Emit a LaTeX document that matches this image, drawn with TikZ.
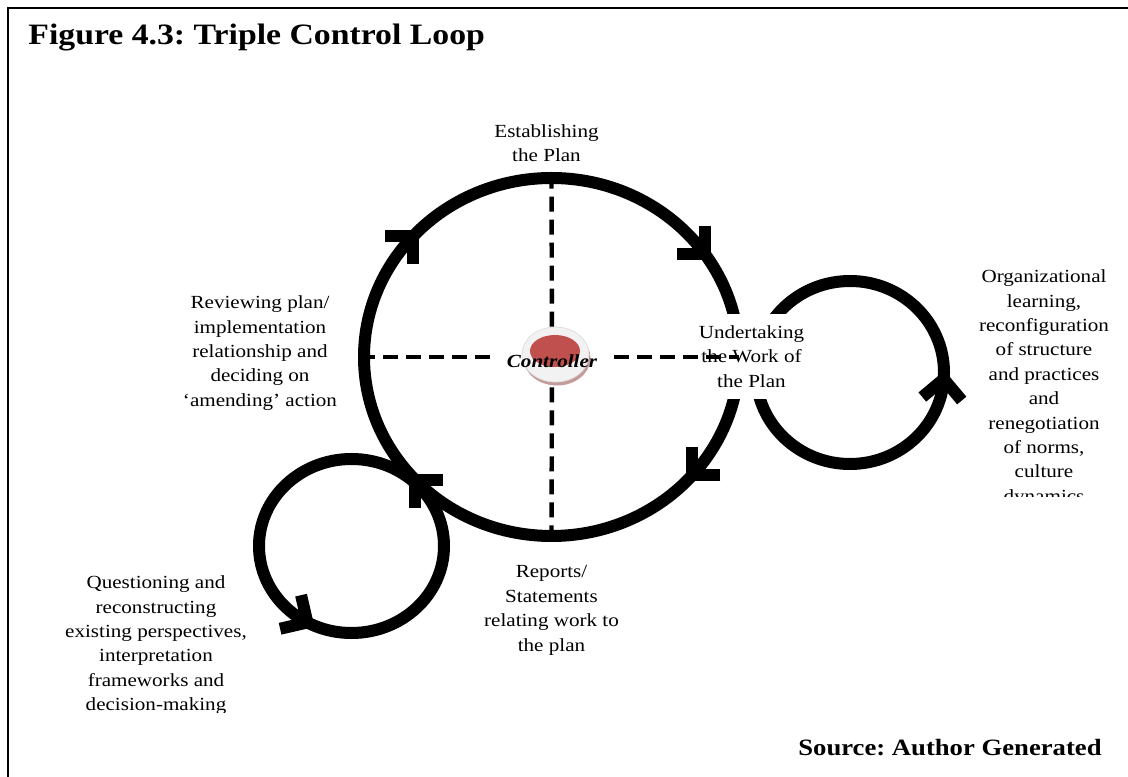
\documentclass[tikz,border=0pt]{standalone}
\usepackage{fontspec}
\setmainfont{Liberation Serif}[FakeStretch=1.14]
\usepackage{tikz}
\usetikzlibrary{positioning, shapes}

\definecolor{knobred}{HTML}{C0504D}
\definecolor{knobrim}{HTML}{F2F2F2}
\definecolor{knobshade}{HTML}{C49A9A}

\newcommand{\lblfont}{\fontsize{9.25}{12.2}\selectfont}

\tikzset{
  loopline/.style = {draw, ellipse, line width=6pt, inner sep=0pt, outer sep=0pt},
  lbl/.style      = {align=center, inner sep=0pt, font=\lblfont},
  divider/.style  = {line width=2.2pt, dash pattern=on 7.5pt off 4pt},
  barb/.pic       = {\draw [line width=6pt, line join=miter] (-28,0) -- (0,0) -- (0,-28);}
}

\frenchspacing

\begin{document}
\begin{tikzpicture}[x=0.5pt, y=0.5pt]

\useasboundingbox (0,0) rectangle (1128,776);
\draw [line width=1pt] (8,768) rectangle (1140,-20);

% the three loops
\node [loopline, minimum width=187.5pt, minimum height=179pt ] (plan)  at (551.5,419)  {};
\node [loopline, minimum width=94pt   , minimum height=91.5pt] (learn) at (850,403.5)  {};
\node [loopline, minimum width=92.5pt , minimum height=87pt  ] (quest) at (351.5,230)  {};

\pic [rotate=0  ] at (plan.139)   {barb};
\pic [rotate=-90] at (plan.34)    {barb};
\pic [rotate=180] at (plan.-40)   {barb};
\pic [rotate=90 ] at (plan.-138)  {barb};
\pic [rotate=-77] at (quest.-120) {barb};
\pic [rotate=40 ] at (learn.-4)   {barb};

\node [lbl, fill=white, inner xsep=2pt, inner ysep=5.85pt] (work) at (751.5,419.5) {Undertaking\\the Work of\\the Plan};

% controller
\node [ellipse, fill=knobshade, inner sep=0pt, minimum width=33.5pt, minimum height=27.5pt] (shade) at (557,418)     {};
\node [ellipse, fill=knobrim, draw=gray!25, line width=0.4pt, inner sep=0pt, minimum width=33.5pt, minimum height=27.5pt] (rim) at (555.5,421.5) {};
\node [ellipse, fill=knobred, inner sep=0pt, minimum width=25pt, minimum height=16pt] (knob) at (555,425) {};
\node [font=\lblfont\bfseries\itshape, inner sep=0pt, text height=20.5pt, text depth=9.5pt, minimum width=62pt, anchor=base] (ctrl) at (552,408) {Controller};

\path [draw, divider] (ctrl) edge (plan.north)
                             edge (plan.south)
                             edge (plan.west)
                             edge (plan.east);

% labels
\node [lbl, above=8pt of plan, xshift=-2.5pt] (est) {Establishing\\the Plan};
\node [lbl, below=14.7pt of plan            ] (rep) {Reports/\\Statements\\relating work to\\the plan};
\node [lbl, anchor=north] (rev) at (260,480.6) {Reviewing plan/\\implementation\\relationship and\\deciding on\\`amending' action};

\begin{scope}
\clip (950,279) rectangle (1128,560);
\node [lbl, anchor=north] (org) at (1044,506.6) {Organizational\\learning,\\reconfiguration\\of structure\\and practices\\and\\renegotiation\\of norms,\\culture\\dynamics};
\end{scope}

\begin{scope}
\clip (40,64) rectangle (280,240);
\node [lbl, anchor=north] (qst) at (156,200.6) {Questioning and\\reconstructing\\existing perspectives,\\interpretation\\frameworks and\\decision-making};
\end{scope}

\node [anchor=base west, inner sep=0pt, font=\fontsize{14.8}{17}\selectfont\bfseries] (title) at (28,731)  {Figure 4.3: Triple Control Loop};
\node [anchor=base east, inner sep=0pt, font=\fontsize{11.7}{14}\selectfont\bfseries] (src)   at (1102,21) {Source: Author Generated};

\end{tikzpicture}
\end{document}
